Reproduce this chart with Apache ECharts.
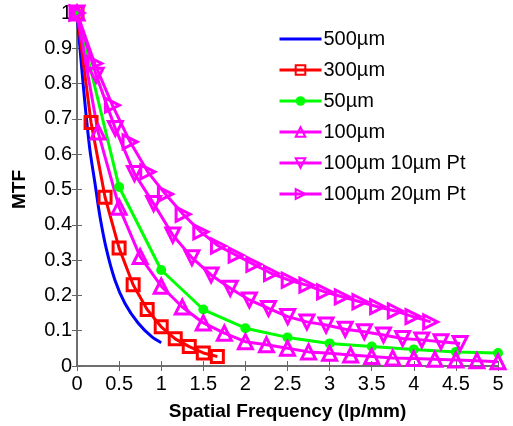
<!DOCTYPE html>
<html><head><meta charset="utf-8">
<script src="https://cdn.jsdelivr.net/npm/echarts@6/dist/echarts.min.js"></script>
<style>html,body{margin:0;padding:0;background:#fff}#c{width:513px;height:426px}</style>
</head><body><div id="c"></div>
<script>
var seriesNames = ['500\u00b5m','300\u00b5m','50\u00b5m','100\u00b5m','100\u00b5m 10\u00b5m Pt','100\u00b5m 20\u00b5m Pt'];
var xTicks = ['0','0.5','1','1.5','2','2.5','3','3.5','4','4.5','5'];

var x500 = [0,0.05,0.1,0.154,0.214,0.273,0.352,0.451,0.57,0.728,0.887,1.0];
var y500 = [1,0.86,0.73,0.611,0.517,0.423,0.328,0.243,0.177,0.121,0.083,0.066];

var x300 = [0,0.1667,0.3333,0.5,0.6667,0.8333,1.0,1.1667,1.3333,1.5,1.6667];
var y300 = [1,0.69,0.478,0.334,0.23,0.16,0.111,0.077,0.055,0.037,0.027];

var x50 = [0,0.5,1,1.5,2,2.5,3,3.5,4,4.5,5];
var y50 = [1,0.507,0.272,0.16,0.107,0.081,0.064,0.055,0.047,0.04,0.037];

var x100 = [0,0.25,0.5,0.75,1,1.25,1.5,1.75,2,2.25,2.5,2.75,3,3.25,3.5,3.75,4,4.25,4.5,4.75,5];
var y100 = [1,0.663,0.45,0.31,0.226,0.167,0.122,0.093,0.069,0.06,0.05,0.04,0.036,0.031,0.027,0.023,0.021,0.019,0.017,0.015,0.012];

var x10Pt = [0,0.2275,0.455,0.6825,0.91,1.1375,1.365,1.5925,1.82,2.0475,2.275,2.5025,2.73,2.9575,3.185,3.4125,3.64,3.8675,4.095,4.3225,4.55];
var y10Pt = [1,0.824,0.673,0.545,0.46,0.371,0.307,0.258,0.22,0.187,0.163,0.14,0.125,0.116,0.104,0.097,0.088,0.078,0.074,0.069,0.064];

var x20Pt = [0,0.21,0.42,0.63,0.84,1.05,1.26,1.47,1.68,1.89,2.1,2.31,2.52,2.73,2.94,3.15,3.36,3.57,3.78,3.99,4.2];
var y20Pt = [1,0.857,0.739,0.635,0.55,0.487,0.43,0.38,0.34,0.314,0.288,0.262,0.243,0.229,0.21,0.196,0.182,0.168,0.156,0.14,0.125];

function pairs(xs, ys){ return xs.map(function(x,i){ return [x, ys[i]]; }); }

var FONT = 'Liberation Sans';
var AX = '#666';
var MAG = '#ff00ff';

function mk(name, xs, ys, color, opts){
  var s = {
    name: name, type: 'line', data: pairs(xs, ys), clip: false,
    lineStyle: {color: color, width: 3},
    itemStyle: {color: 'rgba(255,255,255,0)', borderColor: color, borderWidth: 3},
    emphasis: {disabled: true}, animation: false
  };
  for (var k in opts) s[k] = opts[k];
  return s;
}

var chart = echarts.init(document.getElementById('c'), null, {renderer: 'canvas'});
chart.setOption({
  animation: false,
  grid: {left: 77, right: 15, top: 13, bottom: 60},
  legend: {
    orient: 'vertical', left: 273, top: 24, itemGap: 11,
    itemWidth: 42, itemHeight: 12,
    lineStyle: {width: 3},
    textStyle: {fontFamily: FONT, fontSize: 20, lineHeight: 20, color: '#000', padding: [0,0,0,-3]},
    data: seriesNames
  },
  xAxis: [{
    type: 'value', min: 0, max: 5, interval: 0.5,
    name: 'Spatial Frequency (lp/mm)', nameLocation: 'middle', nameGap: 36,
    nameTextStyle: {fontFamily: FONT, fontSize: 19, fontWeight: 'bold', color: '#000'},
    axisLine: {show: true, lineStyle: {color: AX, width: 1.5}},
    axisTick: {show: true, inside: true, length: 5, lineStyle: {color: AX}},
    axisLabel: {fontFamily: FONT, fontSize: 20, color: '#000', margin: 8,
      formatter: function(v){ return String(Math.round(v*10)/10); }},
    splitLine: {show: false}
  },{
    type: 'value', min: 0, max: 5, interval: 0.5, position: 'top',
    axisLine: {show: true, lineStyle: {color: AX, width: 1.5}},
    axisTick: {show: true, inside: true, length: 5, lineStyle: {color: AX}},
    axisLabel: {show: false}, splitLine: {show: false}
  }],
  yAxis: [{
    type: 'value', min: 0, max: 1, interval: 0.1,
    name: 'MTF', nameLocation: 'middle', nameGap: 48,
    nameTextStyle: {fontFamily: FONT, fontSize: 19, fontWeight: 'bold', color: '#000'},
    axisLine: {show: true, lineStyle: {color: AX, width: 1.5}},
    axisTick: {show: true, inside: true, length: 5, lineStyle: {color: AX}},
    axisLabel: {fontFamily: FONT, fontSize: 20, color: '#000', margin: 5,
      formatter: function(v){ return String(Math.round(v*10)/10); }},
    splitLine: {show: false}
  },{
    type: 'value', min: 0, max: 1, interval: 0.1, position: 'right',
    axisLine: {show: true, lineStyle: {color: AX, width: 1.5}},
    axisTick: {show: true, inside: true, length: 5, lineStyle: {color: AX}},
    axisLabel: {show: false}, splitLine: {show: false}
  }],
  series: [
    mk(seriesNames[0], x500, y500, '#0000ff', {symbol: 'none', smooth: 0.3,
      itemStyle: {color: 'rgba(0,0,0,0)', borderColor: 'rgba(0,0,0,0)', borderWidth: 0}}),
    mk(seriesNames[1], x300, y300, '#ff0000', {symbol: 'rect', symbolSize: 12}),
    mk(seriesNames[2], x50, y50, '#00ff00', {symbol: 'circle', symbolSize: 10,
      itemStyle: {color: '#00ff00', borderColor: '#00ff00', borderWidth: 0}}),
    mk(seriesNames[3], x100, y100, MAG, {symbol: 'triangle', symbolSize: 14}),
    mk(seriesNames[4], x10Pt, y10Pt, MAG, {symbol: 'triangle', symbolSize: 14, symbolRotate: 180}),
    mk(seriesNames[5], x20Pt, y20Pt, MAG, {symbol: 'triangle', symbolSize: 14, symbolRotate: -90})
  ]
});
</script></body></html>
